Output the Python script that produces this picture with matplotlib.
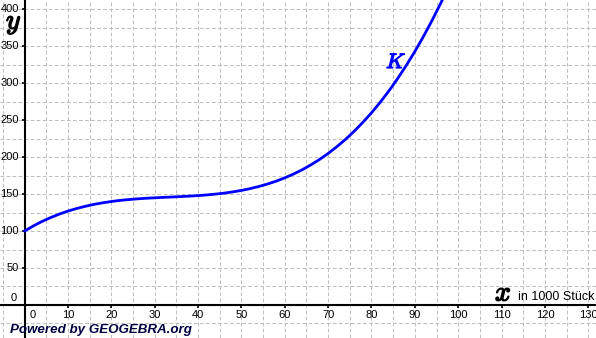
import os
import matplotlib
matplotlib.use("Agg")
import matplotlib.pyplot as plt
from matplotlib.font_manager import FontProperties
import matplotlib.patheffects as pe
import numpy as np

# ---- data ----
x_values = [0, 2, 4, 6, 8, 10, 12, 14, 16, 18, 20, 22, 24, 26, 28, 30, 32, 34, 36, 38,
            40, 42, 44, 46, 48, 50, 52, 54, 56, 58, 60, 62, 64, 66, 68, 70, 72, 74, 76, 78,
            80, 82, 84, 86, 88, 90, 92, 94, 96, 98]
k_values = [100.0, 106.8, 112.9, 118.2, 122.9, 127.0, 130.5, 133.5, 136.1, 138.2,
            140.0, 141.5, 142.6, 143.6, 144.4, 145.0, 145.6, 146.1, 146.7, 147.3,
            148.0, 148.9, 150.0, 151.3, 153.0, 155.0, 157.4, 160.3, 163.6, 167.5,
            172.0, 177.1, 182.9, 189.5, 196.8, 205.0, 214.1, 224.0, 235.0, 247.0,
            260.0, 274.2, 289.5, 306.1, 323.9, 343.0, 363.5, 385.4, 408.7, 433.6]
x_tick_labels = [0, 10, 20, 30, 40, 50, 60, 70, 80, 90, 100, 110, 120, 130]
y_tick_labels = [0, 50, 100, 150, 200, 250, 300, 350, 400]
curve_name = "K"
x_axis_title = "x"
x_axis_unit = "in 1000 Stück"
y_axis_title = "y"
footer = "Powered by GEOGEBRA.org"

# ---- figure ----
W, H = 596, 338
fig = plt.figure(figsize=(W / 100, H / 100), dpi=100)
ax = fig.add_axes([0, 0, 1, 1])
ax.set_xlim(-5.65, 131.77)
ax.set_ylim(-44.7, 412.7)

# grid
ax.set_xticks(x_tick_labels)
ax.set_yticks(y_tick_labels)
ax.set_xticks(np.arange(-5, 135, 5), minor=True)
ax.set_yticks(np.arange(-25, 425, 25), minor=True)
ax.grid(True, which="both", color="#c0c0c0", linewidth=0.75,
        linestyle=(0, (3.6, 2.2)), zorder=0)
ax.set_axisbelow(True)

# axes through origin
for s in ["top", "right"]:
    ax.spines[s].set_visible(False)
ax.spines["left"].set_position(("data", 0))
ax.spines["bottom"].set_position(("data", 0))
ax.spines["left"].set_linewidth(1.5)
ax.spines["bottom"].set_linewidth(1.5)
ax.tick_params(which="major", direction="out", length=2, width=1.2,
               labelbottom=False, labelleft=False, color="black")
ax.tick_params(which="minor", length=0)

# curve
ax.plot(x_values, k_values, color="#0000ff", linewidth=2.0, zorder=3,
        solid_capstyle="round")

tick_font = dict(family="Liberation Sans", size=8, color="black")
px_x = 4.337  # px per x unit
px_y = 0.739  # px per y unit
for v in x_tick_labels:
    xv = v if v != 0 else 8.2 / px_x
    ax.text(xv, -10.0 / px_y, str(v), ha="center", va="center", **tick_font)
for v in y_tick_labels:
    if v == 0:
        ax.text(-7.5 / px_x, 6.5 / px_y, str(v), ha="right", va="center", **tick_font)
    else:
        ax.text(-5.8 / px_x, v, str(v), ha="right", va="center", **tick_font)

cm_path = os.path.join(matplotlib.get_data_path(), "fonts", "ttf", "cmmi10.ttf")
cm = FontProperties(fname=cm_path, size=20)
cmK = FontProperties(fname=cm_path, size=15)
bold_black = [pe.withStroke(linewidth=1.0, foreground="black")]
bold_blue = [pe.withStroke(linewidth=0.9, foreground="#0000ff")]

# axis titles
ax.text(-18.5 / px_x, (305 - 28.5) / px_y, y_axis_title, fontproperties=cm,
        ha="left", va="baseline", color="black", path_effects=bold_black)
ax.text((495 - 24.5) / px_x, (305 - 300.5) / px_y, x_axis_title, fontproperties=cm,
        ha="left", va="baseline", color="black", path_effects=bold_black)
ax.text((518 - 24.5) / px_x, (305 - 300) / px_y, x_axis_unit,
        family="Liberation Sans", size=9, color="black", ha="left", va="baseline")

# curve label
ax.text((386 - 24.5) / px_x, (305 - 68) / px_y, curve_name, fontproperties=cmK,
        color="#0000ff", ha="left", va="baseline", path_effects=bold_blue)

# footer
fig.text(10 / W, 1 - 333.3 / H, footer, family="Liberation Sans", size=9.6,
         weight="bold", style="italic", color="#000040", ha="left", va="baseline")

fig.savefig("out.png", dpi=100)
